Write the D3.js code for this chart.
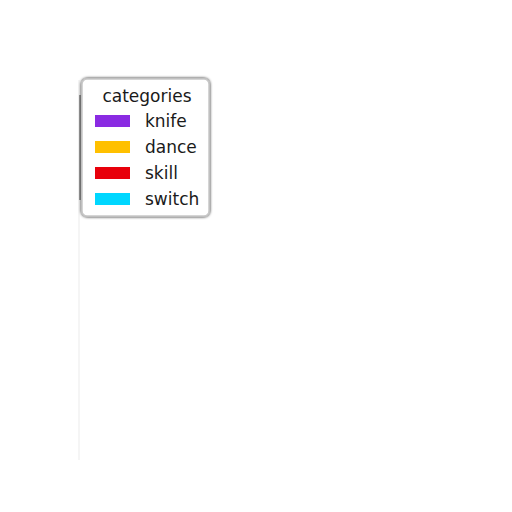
<!DOCTYPE html>
<html><head><meta charset="utf-8">
<script src="https://cdn.jsdelivr.net/npm/d3@7"></script>
<style>body{margin:0;background:#fff}</style>
</head><body><div id="c"></div>
<script>
const legendTitle = "categories";
const categories = ["knife", "dance", "skill", "switch"];
const colors = ["#8a2be2", "#ffc000", "#e8000b", "#00d7ff"];

const svg = d3.select("#c").append("svg").attr("width", 512).attr("height", 512);
const defs = svg.append("defs");
const f = defs.append("filter").attr("id","sh").attr("x","-20%").attr("y","-20%").attr("width","140%").attr("height","140%");
f.append("feGaussianBlur").attr("in","SourceAlpha").attr("stdDeviation",1.5);
f.append("feOffset").attr("dx",0).attr("dy",0).attr("result","b");
const fm = f.append("feMerge"); fm.append("feMergeNode").attr("in","b"); fm.append("feMergeNode").attr("in","SourceGraphic");

// faint axis line
svg.append("line").attr("x1",79).attr("x2",79).attr("y1",80).attr("y2",460)
  .attr("stroke","#f2f2f2").attr("stroke-width",1.5);
svg.append("line").attr("x1",80).attr("x2",80).attr("y1",95).attr("y2",200)
  .attr("stroke","#444").attr("stroke-width",1);

const y = d3.scaleBand().domain(categories).range([108, 212]);
const g = svg.append("g");
g.append("rect").attr("x",82).attr("y",79).attr("width",127).attr("height",137).attr("rx",5)
  .attr("fill","#fff").attr("stroke","#c8c8c8").attr("stroke-width",1.5).attr("filter","url(#sh)");
g.append("text").attr("x",147).attr("y",102).attr("text-anchor","middle")
  .attr("font-family","DejaVu Sans").attr("font-size",17).attr("fill","#1a1a1a").text(legendTitle);
const row = g.selectAll("g.r").data(categories).join("g").attr("class","r")
  .attr("transform", d => `translate(0,${y(d) + y.bandwidth()/2})`);
row.append("rect").attr("x",95).attr("y",-6).attr("width",35).attr("height",12)
  .attr("fill",(d,i)=>colors[i]);
row.append("text").attr("x",145).attr("y",6).attr("font-family","DejaVu Sans").attr("font-size",17)
  .attr("fill","#1a1a1a").text(d=>d);
</script></body></html>
